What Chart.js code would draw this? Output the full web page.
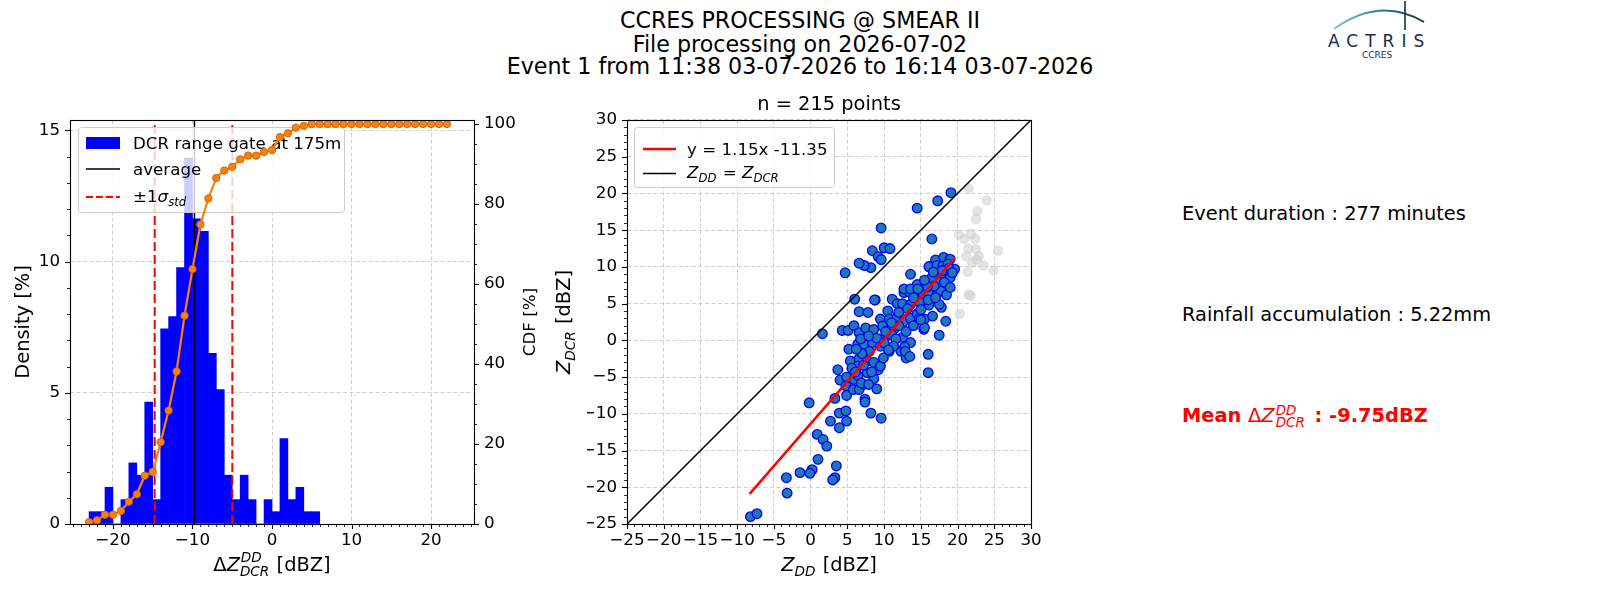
<!DOCTYPE html>
<html>
<head>
<meta charset="utf-8">
<title>CCRES PROCESSING @ SMEAR II</title>
<script src="https://cdn.jsdelivr.net/npm/chart.js@4.4.1/dist/chart.umd.min.js"></script>
<style>
  html, body { margin:0; padding:0; background:#ffffff; }
  body { width:1600px; height:600px; position:relative; overflow:hidden; font-family:"DejaVu Sans", sans-serif; color:#000; }
  canvas { position:absolute; top:0; }
  #histCanvas { left:0; }
  #scatCanvas { left:540px; }
  .suptitle { position:absolute; left:0; width:1600px; text-align:center; font-size:22.2px; line-height:23px; white-space:nowrap; }
  .info { position:absolute; left:1182px; font-size:19.4px; line-height:22px; white-space:nowrap; }
  .mean { color:#ff0000; font-weight:bold; }
  .mn { font-weight:normal; }
  .mi { font-weight:normal; font-style:italic; }
  .ss { display:inline-flex; flex-direction:column; font-size:13.5px; line-height:12px; font-style:italic; font-weight:normal; vertical-align:7px; margin-left:1px; margin-right:3px; }
  #logo { position:absolute; left:1318px; top:0; }
</style>
</head>
<body>
<div class="suptitle" style="top:9px">CCRES PROCESSING @ SMEAR II</div>
<div class="suptitle" style="top:32.5px">File processing on 2026-07-02</div>
<div class="suptitle" style="top:55px">Event 1 from 11:38 03-07-2026 to 16:14 03-07-2026</div>

<svg id="logo" width="130" height="66" viewBox="0 0 130 66">
  <defs>
    <linearGradient id="arcg" x1="0" x2="1" y1="0" y2="0">
      <stop offset="0" stop-color="#7cc9c4"/>
      <stop offset="0.45" stop-color="#2f8a9c"/>
      <stop offset="1" stop-color="#1b2b4b"/>
    </linearGradient>
  </defs>
  <path d="M 16 29 Q 62 -4 106 22" fill="none" stroke="url(#arcg)" stroke-width="2"/>
  <line x1="87" y1="1" x2="87" y2="30" stroke="#1b2b4b" stroke-width="1.6"/>
  <text x="10" y="47" font-family="DejaVu Sans" font-size="17" letter-spacing="7" fill="#1b2b4b">ACTRIS</text>
  <text x="59" y="58" text-anchor="middle" font-family="DejaVu Sans" font-size="9" fill="#1b2b4b">CCRES</text>
</svg>

<canvas id="histCanvas" width="560" height="600"></canvas>
<canvas id="scatCanvas" width="620" height="600"></canvas>

<div class="info" style="top:203px">Event duration : 277 minutes</div>
<div class="info" style="top:304px">Rainfall accumulation : 5.22mm</div>
<div class="info mean" style="top:404px">Mean <span class="mn">Δ</span><span class="mi">Z</span><span class="ss"><span>DD</span><span>DCR</span></span> : -9.75dBZ</div>

<script>
// ---------------- DATA ----------------
// Histogram of dZ (DD - DCR), 1 dBZ bins, left edges
const histBinLeft = [-23,-22,-21,-20,-19,-18,-17,-16,-15,-14,-13,-12,-11,-10,-9,-8,-7,-6,-5,-4,-3,-2,-1,0,1,2,3,4,5];
// Density [%]
const histDensity = [0.47,0.47,1.40,0,0.93,2.33,1.86,4.65,0.93,7.44,7.91,9.77,13.95,11.63,11.16,6.51,5.12,1.86,0.93,1.86,0.93,0,0.93,0.47,3.26,0.93,1.40,0.47,0.47];
// CDF [%]
const cdfX = [-23,-22,-21,-20,-19,-18,-17,-16,-15,-14,-13,-12,-11,-10,-9,-8,-7,-6,-5,-4,-3,-2,-1,0,1,2,3,4,5,6,7,8,9,10,11,12,13,14,15,16,17,18,19,20,21,22];
const cdfPct = [0.47,0.93,2.33,2.33,3.26,5.58,7.44,12.09,13.02,20.47,28.37,38.14,52.09,63.72,74.88,81.40,86.51,88.37,89.30,91.16,92.09,92.09,93.02,93.49,96.74,97.67,99.07,99.53,100,100,100,100,100,100,100,100,100,100,100,100,100,100,100,100,100,100];
const meanDelta = -9.75;
const sigmaLow = -14.75;
const sigmaHigh = -4.99;

// Scatter: [Z_DD, Z_DCR] used points
const usedPoints = [
 [19.1,20.1],[17.3,19.0],[14.5,18.0],[9.6,15.3],[16.5,13.8],
 [8.4,12.2],[10.0,12.6],[10.8,12.5],[9.2,11.4],[9.6,11.0],[8.2,9.9],[7.3,10.2],[6.6,10.5],[4.7,9.2],[13.6,9.0],[16.2,10.0],
 [6.0,5.6],[8.8,5.5],[6.6,3.9],[7.8,3.8],[1.6,0.9],[4.3,1.35],[5.1,1.35],[5.9,2.0],[6.6,1.05],
 [5.2,-1.2],[6.4,-0.5],[5.4,-2.8],[6.6,-2.5],[6.4,-3.5],[3.7,-4.0],[4.0,-5.4],[4.9,-5.0],[4.8,-6.2],[4.9,-7.5],[5.9,-5.3],[6.45,-4.8],[5.8,-6.7],[6.6,-6.7],[3.3,-7.9],[-0.2,-8.5],
 [7.4,-8.0],[7.4,-8.4],[3.9,-9.9],[4.8,-9.6],[4.9,-11.0],[2.7,-11.0],[3.9,-11.9],[8.2,-9.9],[9.6,-10.6],
 [0.9,-12.8],[1.7,-13.5],[2.2,-14.4],[1.0,-16.2],[0.2,-17.6],[-0.1,-18.1],[-1.45,-18.0],[3.5,-17.1],[3.3,-18.7],[3.0,-19.0],[-3.3,-18.7],[-3.2,-20.8],[-8.2,-24.0],[-7.3,-23.6],
 [16.0,-1.9],[16.0,-4.4],[17.5,0.7],[18.4,2.6],[17.8,4.5],[9.0,-6.6],[9.2,-4.0],[7.2,-6.0],
 [8.7,5.5],[11.1,5.6],[12.7,6.5],[13.4,6.6],[14.3,6.6],[15.3,6.3],[16.1,6.5],[17.3,6.5],[17.7,6.8],
 [10.5,4.0],[11.8,5.0],[12.5,5.0],[13.6,4.9],[14.8,5.2],[16.1,4.8],[17.5,4.9],
 [9.5,2.9],[10.7,2.9],[11.8,3.2],[12.7,2.6],[13.6,3.0],[14.5,3.6],[15.5,2.9],[16.6,3.3],
 [7.5,1.7],[8.6,1.5],[9.8,1.95],[11.4,1.6],[12.5,0.4],[13.6,-0.3],[15.4,1.5],
 [7.3,-0.5],[8.4,-0.3],[9.5,-0.8],[10.7,-1.5],[12.3,-1.5],[13.0,-2.4],
 [7.7,-2.8],[8.6,-3.0],[9.5,-3.5],[7.7,-4.4],[8.6,-5.2],
 [17.0,10.95],[18.1,11.3],[19.0,11.05],[16.1,10.05],[17.2,10.2],[18.0,10.1],[18.7,10.4],[19.6,9.7],[18.5,9.2],[17.7,8.9],[19.0,8.55],[17.4,7.95],[16.5,8.55],[18.2,7.9],[16.8,7.4],[15.9,7.3],[14.5,7.6],[12.7,7.0],[13.6,7.0],[14.6,7.0],
 [10.2,0.5],[11.0,0.8],[9.0,0.3],[10.0,-0.3],[11.6,0.2],[12.0,2.0],[13.0,1.2],[14.0,2.0],[14.8,3.0],[15.0,4.2],[16.0,5.5],[17.0,5.8],[18.5,6.2],[19.0,7.2],[18.8,9.8],[19.3,9.2],[17.9,9.5],[16.7,9.3],[15.5,8.2],[14.0,5.8],[13.2,4.3],[12.0,3.8],[11.0,2.4],[10.2,1.2],[8.0,-1.5],[7.0,-1.8],[6.2,-1.2],[7.2,-3.4],[6.9,-5.8],[7.9,-6.0],[8.3,-4.3],[9.9,-2.4],[11.3,-0.8],[12.8,-0.9],[6.8,0.2],[7.9,0.6],[5.6,-3.8],[6.1,-4.3],
 [15.5,1.7],[15.0,2.8],[12.9,-1.5],[13.5,-2.2],[10.6,-1.3]
];
// Excluded points (light grey)
const excludedPoints = [
 [21.5,20.7],[23.95,19.05],[22.7,17.6],[22.5,16.5],[20.2,14.4],[20.9,13.8],[21.8,14.5],[22.4,13.8],[21.5,12.5],[22.5,12.4],
 [21.2,11.45],[22.9,11.45],[25.5,12.2],[22.0,10.6],[23.5,10.2],[21.4,9.3],[24.9,9.5],[21.5,6.2],[21.8,6.1],[20.3,3.6],[22.6,11.0]
];
const nPoints = 215;
const fitSlope = 1.15;
const fitIntercept = -11.35;
const fitXRange = [-8.3, 19.6];

// ---------------- HELPERS ----------------
const FONT = '"DejaVu Sans", sans-serif';
function fnt(size, italic, bold){ return (italic?'italic ':'') + (bold?'bold ':'') + size + 'px ' + FONT; }
function richMeasure(ctx, parts, size){
  let w = 0;
  for (const p of parts){
    if (p.sup !== undefined || p.sub !== undefined){
      ctx.font = fnt(size*0.7, true);
      const a = p.sup ? ctx.measureText(p.sup).width : 0;
      const b = p.sub ? ctx.measureText(p.sub).width : 0;
      p.w = Math.max(a,b) + size*0.06;
    } else {
      ctx.font = fnt(size, !!p.i);
      p.w = ctx.measureText(p.t).width;
    }
    w += p.w;
  }
  return w;
}
function richDraw(ctx, parts, x, baseline, size, align, color){
  ctx.save();
  ctx.fillStyle = color; ctx.textAlign = 'left'; ctx.textBaseline = 'alphabetic';
  const w = richMeasure(ctx, parts, size);
  let cx = align === 'center' ? x - w/2 : (align === 'right' ? x - w : x);
  for (const p of parts){
    if (p.sup !== undefined || p.sub !== undefined){
      ctx.font = fnt(size*0.7, true);
      if (p.sup) ctx.fillText(p.sup, cx + size*0.04, baseline - size*0.45);
      if (p.sub) ctx.fillText(p.sub, cx, baseline + size*0.25);
    } else {
      ctx.font = fnt(size, !!p.i);
      ctx.fillText(p.t, cx, baseline);
    }
    cx += p.w;
  }
  ctx.restore();
}
function richVertical(ctx, parts, cx, cy, size, color){
  ctx.save();
  ctx.translate(cx, cy);
  ctx.rotate(-Math.PI/2);
  richDraw(ctx, parts, 0, size*0.36, size, 'center', color);
  ctx.restore();
}
function fmtTick(v){ return (v < 0 ? '\u2212' : '') + Math.abs(v); }
function seg(ctx, x1, y1, x2, y2){ ctx.beginPath(); ctx.moveTo(x1, y1); ctx.lineTo(x2, y2); ctx.stroke(); }
function box(ctx, x, y, w, h){
  ctx.beginPath();
  if (ctx.roundRect) ctx.roundRect(x, y, w, h, 3); else ctx.rect(x, y, w, h);
  ctx.fillStyle = 'rgba(255,255,255,0.8)'; ctx.fill();
  ctx.strokeStyle = '#cccccc'; ctx.lineWidth = 1; ctx.stroke();
}
// matplotlib-like ticks (major+minor, outward) and frame
function drawTicksAndFrame(chart, specs){
  const ctx = chart.ctx, a = chart.chartArea;
  ctx.save();
  ctx.strokeStyle = '#000';
  for (const s of specs){
    const sc = chart.scales[s.id];
    const k0 = Math.ceil(sc.min / s.minor - 1e-9), k1 = Math.floor(sc.max / s.minor + 1e-9);
    for (let k = k0; k <= k1; k++){
      const v = k * s.minor;
      const r = v / s.major;
      const major = Math.abs(r - Math.round(r)) < 1e-6;
      const len = major ? 5 : 3;
      ctx.lineWidth = major ? 1.1 : 0.8;
      const p = Math.round(sc.getPixelForValue(v)) + 0.5;
      if (s.side === 'bottom') seg(ctx, p, a.bottom, p, a.bottom + len);
      else if (s.side === 'left') seg(ctx, a.left, p, a.left - len, p);
      else seg(ctx, a.right, p, a.right + len, p);
    }
  }
  ctx.lineWidth = 1.1;
  ctx.strokeRect(Math.round(a.left) + 0.5, Math.round(a.top) + 0.5, Math.round(a.right - a.left), Math.round(a.bottom - a.top));
  ctx.restore();
}

const gridCommon = { color: '#cfcfcf', lineWidth: 1, drawTicks: false };
const borderCommon = { display: false, dash: [4, 2.5] };
const tickFont = { family: FONT, size: 16.7 };
const LEG = 16.7, LAB = 19.4;

// ---------------- CHART 1 : histogram + CDF ----------------
const histColor = '#0000ff';
const cdfColor = '#ff7f0e';
const yTop = 15.4;

const histPlugin = {
  id: 'histDecor',
  afterDatasetDraw(chart, args){
    if (args.index !== 3) return;   // after 'average' line, before CDF (drawn on top)
    const ctx = chart.ctx;
    ctx.save();
    box(ctx, 78.5, 127.5, 266, 85);
    ctx.fillStyle = histColor; ctx.fillRect(86, 137, 34, 12);
    ctx.strokeStyle = '#000'; ctx.lineWidth = 1.5; seg(ctx, 86, 169, 120, 169);
    ctx.strokeStyle = '#ff0000'; ctx.lineWidth = 2; ctx.setLineDash([7, 3]); seg(ctx, 86, 197, 120, 197); ctx.setLineDash([]);
    richDraw(ctx, [{t: chart.data.datasets[0].label}], 133, 149, LEG, 'left', '#000');
    richDraw(ctx, [{t: chart.data.datasets[3].label}], 133, 175, LEG, 'left', '#000');
    richDraw(ctx, [{t: '\u00b11'}, {t: '\u03c3', i: true}, {sub: 'std'}], 133, 202, LEG, 'left', '#000');
    ctx.restore();
  },
  afterDraw(chart){
    drawTicksAndFrame(chart, [
      {id: 'x', side: 'bottom', minor: 1, major: 10},
      {id: 'y', side: 'left', minor: 1, major: 5},
      {id: 'y2', side: 'right', minor: 5, major: 20}
    ]);
    const ctx = chart.ctx, a = chart.chartArea;
    const cy = (a.top + a.bottom) / 2;
    richVertical(ctx, [{t: 'Density [%]'}], a.left - 48, cy, LAB, '#000');
    richVertical(ctx, [{t: 'CDF [%]'}], a.right + 55, cy, LEG, '#000');
    richDraw(ctx, [{t: '\u0394'}, {t: 'Z', i: true}, {sup: 'DD', sub: 'DCR'}, {t: ' [dBZ]'}], (a.left + a.right) / 2, a.bottom + 47, LAB, 'center', '#000');
  }
};

new Chart(document.getElementById('histCanvas'), {
  type: 'bar',
  data: {
    datasets: [
      { type: 'bar', label: 'DCR range gate at 175m', yAxisID: 'y', order: 3,
        data: histBinLeft.map((b, i) => ({x: b + 0.5, y: histDensity[i]})),
        backgroundColor: histColor, borderWidth: 0, barPercentage: 1, categoryPercentage: 1 },
      { type: 'line', label: '\u00b11\u03c3 std', yAxisID: 'y', order: 2,
        data: [{x: sigmaLow, y: 0}, {x: sigmaLow, y: yTop}],
        borderColor: '#ff0000', borderWidth: 2, borderDash: [9, 4], pointRadius: 0 },
      { type: 'line', label: '\u00b11\u03c3 std (upper)', yAxisID: 'y', order: 2,
        data: [{x: sigmaHigh, y: 0}, {x: sigmaHigh, y: yTop}],
        borderColor: '#ff0000', borderWidth: 2, borderDash: [9, 4], pointRadius: 0 },
      { type: 'line', label: 'average', yAxisID: 'y', order: 1,
        data: [{x: meanDelta, y: 0}, {x: meanDelta, y: yTop}],
        borderColor: '#000000', borderWidth: 1.5, pointRadius: 0 },
      { type: 'line', label: 'CDF', yAxisID: 'y2', order: 0,
        data: cdfX.map((x, i) => ({x: x, y: cdfPct[i]})),
        borderColor: cdfColor, borderWidth: 2.2, tension: 0,
        pointRadius: 3.7, pointBackgroundColor: cdfColor, pointBorderColor: '#c86400', pointBorderWidth: 0.9 }
    ]
  },
  options: {
    responsive: false, animation: false, events: [],
    layout: { padding: { left: 25, right: 41, top: 120, bottom: 46 } },
    plugins: { legend: { display: false }, tooltip: { enabled: false } },
    scales: {
      x: { type: 'linear', min: -25.4, max: 25.4, offset: false,
        grid: Object.assign({}, gridCommon, {offset: false}), border: borderCommon,
        ticks: { stepSize: 10, includeBounds: false, autoSkip: false, font: tickFont, color: '#000', padding: 7, maxRotation: 0, callback: fmtTick },
        afterFit: s => { s.height = 30; } },
      y: { type: 'linear', position: 'left', min: 0, max: yTop,
        grid: gridCommon, border: borderCommon,
        ticks: { stepSize: 5, includeBounds: false, autoSkip: false, font: tickFont, color: '#000', padding: 10, callback: fmtTick },
        afterFit: s => { s.width = 45; } },
      y2: { type: 'linear', position: 'right', min: 0, max: 101,
        grid: { display: false, drawTicks: false }, border: { display: false },
        ticks: { stepSize: 20, includeBounds: false, autoSkip: false, font: tickFont, color: '#000', padding: 10, callback: fmtTick },
        afterFit: s => { s.width = 45; } }
    }
  },
  plugins: [histPlugin]
});

// ---------------- CHART 2 : scatter ----------------
const OX = 540;  // canvas offset on the page
const scatPlugin = {
  id: 'scatDecor',
  afterDatasetsDraw(chart){
    const ctx = chart.ctx;
    ctx.save();
    box(ctx, 634.5 - OX, 127.5, 200, 60);
    ctx.strokeStyle = '#ff0000'; ctx.lineWidth = 2.5; seg(ctx, 643 - OX, 149, 676 - OX, 149);
    ctx.strokeStyle = '#000'; ctx.lineWidth = 1.5; seg(ctx, 643 - OX, 173.5, 676 - OX, 173.5);
    richDraw(ctx, [{t: chart.data.datasets[2].label}], 687 - OX, 155, LEG, 'left', '#000');
    richDraw(ctx, [{t: 'Z', i: true}, {sub: 'DD'}, {t: ' = '}, {t: 'Z', i: true}, {sub: 'DCR'}], 687 - OX, 178, LEG, 'left', '#000');
    ctx.restore();
  },
  afterDraw(chart){
    drawTicksAndFrame(chart, [
      {id: 'x', side: 'bottom', minor: 1, major: 5},
      {id: 'y', side: 'left', minor: 1, major: 5}
    ]);
    const ctx = chart.ctx, a = chart.chartArea;
    richDraw(ctx, [{t: 'Z', i: true}, {sub: 'DD'}, {t: ' [dBZ]'}], (a.left + a.right) / 2, a.bottom + 47, LAB, 'center', '#000');
    richVertical(ctx, [{t: 'Z', i: true}, {sub: 'DCR'}, {t: ' [dBZ]'}], a.left - 64, (a.top + a.bottom) / 2, LAB, '#000');
  }
};

new Chart(document.getElementById('scatCanvas'), {
  type: 'scatter',
  data: {
    datasets: [
      { label: 'excluded', order: 3,
        data: excludedPoints.map(p => ({x: p[0], y: p[1]})),
        pointRadius: 4.8, pointBackgroundColor: 'rgba(205,205,205,0.55)', pointBorderColor: 'rgba(205,205,205,0.35)', pointBorderWidth: 1.2 },
      { label: 'points', order: 2,
        data: usedPoints.map(p => ({x: p[0], y: p[1]})),
        pointRadius: 4.8, pointBackgroundColor: '#1f77b4', pointBorderColor: '#0000ff', pointBorderWidth: 1.3 },
      { label: 'y = ' + fitSlope.toFixed(2) + 'x ' + fitIntercept.toFixed(2), order: 1, showLine: true,
        data: fitXRange.map(x => ({x: x, y: fitSlope * x + fitIntercept})),
        borderColor: '#ff0000', borderWidth: 2.5, pointRadius: 0 },
      { label: 'ZDD = ZDCR', order: 0, showLine: true,
        data: [{x: -25, y: -25}, {x: 30, y: 30}],
        borderColor: '#000000', borderWidth: 1.5, pointRadius: 0 }
    ]
  },
  options: {
    responsive: false, animation: false, events: [],
    layout: { padding: { left: 47, right: 129, top: 93, bottom: 46 } },
    plugins: {
      legend: { display: false }, tooltip: { enabled: false },
      title: { display: true, fullSize: false, text: 'n = ' + nPoints + ' points', color: '#000',
        font: { family: FONT, size: LAB, weight: 'normal', lineHeight: 1.2 }, padding: { top: 0, bottom: 3.7 } }
    },
    scales: {
      x: { type: 'linear', min: -25, max: 30,
        grid: gridCommon, border: borderCommon,
        ticks: { stepSize: 5, autoSkip: false, font: tickFont, color: '#000', padding: 7, maxRotation: 0, minRotation: 0, callback: fmtTick },
        afterFit: s => { s.height = 30; } },
      y: { type: 'linear', min: -25, max: 30,
        grid: gridCommon, border: borderCommon,
        ticks: { stepSize: 5, autoSkip: false, font: tickFont, color: '#000', padding: 10, callback: fmtTick },
        afterFit: s => { s.width = 40; } }
    }
  },
  plugins: [scatPlugin]
});
</script>
</body>
</html>
